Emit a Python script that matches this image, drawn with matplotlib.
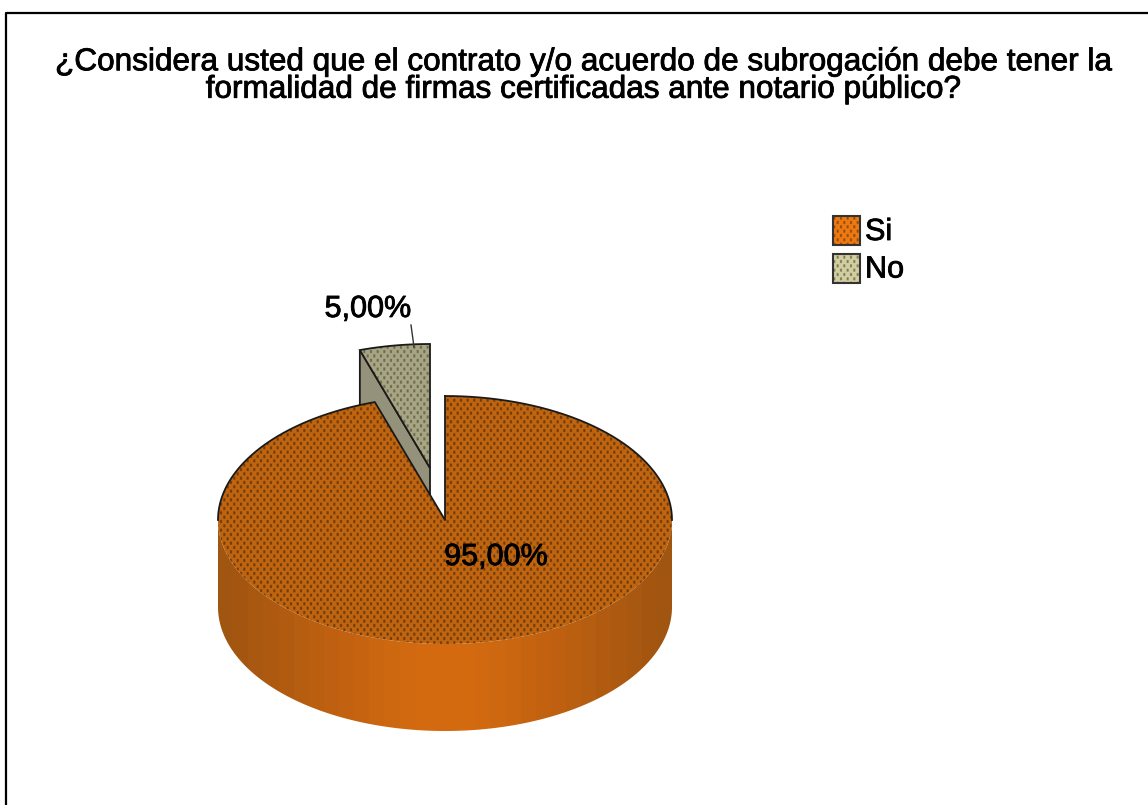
import numpy as np
import matplotlib
matplotlib.use('Agg')
import matplotlib.pyplot as plt
from matplotlib.colors import LinearSegmentedColormap, to_rgb
from matplotlib.patches import Polygon, Rectangle
import matplotlib.patheffects as pe

plt.rcParams['font.family'] = ['Liberation Sans', 'DejaVu Sans']

titulo = '¿Considera usted que el contrato y/o acuerdo de subrogación debe tener la\nformalidad de firmas certificadas ante notario público?'
categorias = ['Si', 'No']
valores = [95.0, 5.0]
etiquetas = ['95,00%', '5,00%']

# geometria del pastel en pixeles
cx, cy = 445, 520
rx, ry = 227, 124
alto = 87
dx_sep, dy_sep = -15, -52

linea = '#1a1a1a'
gradiente = ['#A05510', '#B25C10', '#C46210', '#D36A10', '#D36A10', '#C46210', '#B25C10', '#A05510']
trazo = [pe.withStroke(linewidth=0.6, foreground='black')]


def arco(inicio, fin, n=200):
    # angulos en grados, desde las 12 en sentido horario
    t = np.radians(np.linspace(inicio, fin, n))
    return cx + rx * np.sin(t), cy - ry * np.cos(t)


def textura(ax, xy, base, punto, zorder):
    # trama de puntos alternados, 3 muestras por pixel
    x0, y0 = np.floor(xy.min(axis=0)).astype(int)
    x1, y1 = np.ceil(xy.max(axis=0)).astype(int)
    yy, xx = np.mgrid[0:(y1 - y0) * 3, 0:(x1 - x0) * 3]
    xx = xx + x0 * 3
    yy = yy + y0 * 3
    fila = (yy // 13) % 2
    mascara = (((xx + fila * 10) % 20) < 6) & ((yy % 13) < 9)
    img = np.zeros(mascara.shape + (3,))
    img[:] = to_rgb(base)
    img[mascara] = to_rgb(punto)
    im = ax.imshow(img, extent=[x0, x1, y1, y0], aspect='auto', interpolation='hanning', zorder=zorder)
    im.set_clip_path(Polygon(xy, closed=True, transform=ax.transData))


fig = plt.figure(figsize=(11.48, 8.05), dpi=100)
ax = fig.add_axes([0, 0, 1, 1])

# marco exterior: solo arriba y a la izquierda
ax.plot([6, 6, 1148], [805, 13, 13], color='black', linewidth=1.6, zorder=1)

ax.text(584, 76, titulo, ha='center', va='center', fontsize=22.7, linespacing=0.89, color='black',
        path_effects=trazo, zorder=6)

angulo_si = 360 * valores[0] / sum(valores)

# rebanada separada: pared interior primero, la tapa grande la cubre despues
x_no, y_no = arco(angulo_si, 360, 40)
x_no = x_no + dx_sep
y_no = y_no + dy_sep
ax_x, ax_y = cx + dx_sep, cy + dy_sep
pared = np.array([[x_no[0], y_no[0]], [ax_x, ax_y], [ax_x, ax_y + alto], [x_no[0], y_no[0] + alto]])
ax.add_patch(Polygon(pared, closed=True, facecolor='#94927A', edgecolor=linea, linewidth=1.3, zorder=2))
xy_no = np.column_stack([np.r_[ax_x, x_no], np.r_[ax_y, y_no]])
textura(ax, xy_no, '#A8A583', '#6B6A50', 2.5)
ax.add_patch(Polygon(xy_no, closed=True, fill=False, edgecolor=linea, linewidth=1.3, zorder=2.6))

# pared lateral del pastel con degradado horizontal en bandas
xf, yf = arco(90, 270)
borde = np.vstack([np.column_stack([xf, yf]), np.column_stack([xf[::-1], yf[::-1] + alto])])
cmap = LinearSegmentedColormap.from_list('pared', gradiente, N=30)
im = ax.imshow(np.linspace(0, 1, 300).reshape(1, -1), cmap=cmap, aspect='auto',
               extent=[cx - rx, cx + rx, cy + ry + alto, cy - 10], interpolation='nearest', zorder=2.8)
im.set_clip_path(Polygon(borde, closed=True, transform=ax.transData))

# tapa del pastel
x_si, y_si = arco(0, angulo_si, 400)
xy_si = np.column_stack([np.r_[cx, x_si], np.r_[cy, y_si]])
textura(ax, xy_si, '#C0640F', '#6A3C0C', 3)

# contorno solo en la parte trasera y en los cortes
x_a, y_a = arco(0, 90)
x_b, y_b = arco(270, angulo_si)
ax.plot(x_a, y_a, color=linea, linewidth=1.3, zorder=3.2)
ax.plot(np.r_[x_b, cx, x_a[0]], np.r_[y_b, cy, y_a[0]], color=linea, linewidth=1.3, zorder=3.2)

ax.text(496, 557, etiquetas[0], ha='center', va='center', fontsize=22, color='black', path_effects=trazo, zorder=6)
ax.text(368, 309, etiquetas[1], ha='center', va='center', fontsize=22, color='black', path_effects=trazo, zorder=6)

# linea guia de la etiqueta 5,00%
ax.plot([411, 414], [325, 347], color='#333333', linewidth=1, zorder=6)

# leyenda
colores_leyenda = ['#F07810', '#D2CFA0']
puntos_leyenda = ['#8A5010', '#7E7C60']
for i, (cat, col, pun) in enumerate(zip(categorias, colores_leyenda, puntos_leyenda)):
    y0 = 216 + i * 37.5
    esquinas = np.array([[833, y0], [860, y0], [860, y0 + 29], [833, y0 + 29]])
    textura(ax, esquinas, col, pun, 4)
    ax.add_patch(Rectangle((833, y0), 27, 29, fill=False, edgecolor='#333333', linewidth=1.5, zorder=4.1))
    ax.text(865, y0 + 16, cat, ha='left', va='center', fontsize=22, color='black', path_effects=trazo, zorder=6)

ax.set_xlim(0, 1148)
ax.set_ylim(805, 0)
ax.axis('off')

fig.savefig('out.png', dpi=100)
